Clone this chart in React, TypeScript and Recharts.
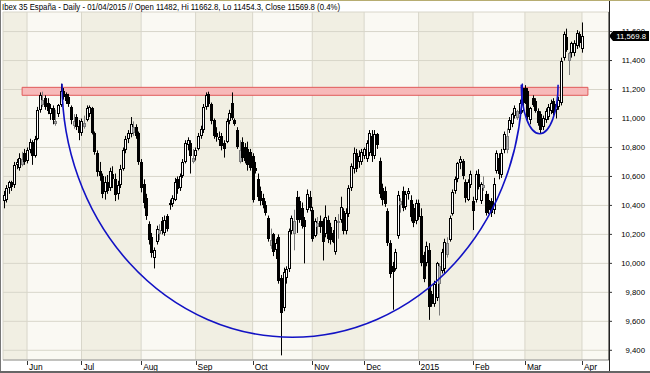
import React from "react"
import {
  ComposedChart,
  Bar,
  XAxis,
  YAxis,
  CartesianGrid,
  ReferenceArea,
  ReferenceLine,
} from "recharts"

const FONT = "'Liberation Sans', Arial, sans-serif"
const TITLE =
  "Ibex 35 España - Daily - 01/04/2015 // Open 11482, Hi 11662.8, Lo 11454.3, Close 11569.8 (0.4%)"

// trading-day index of the first session of each month (day 0 = 20 May 2014)
const MONTH_START = [9, 30, 53, 74, 96, 119, 139, 160, 181, 201, 223]
const MONTH_LABELS = ["Jun", "Jul", "Aug", "Sep", "Oct", "Nov", "Dec", "2015", "Feb", "Mar", "Apr"]
const PRICE_TICKS = [9400, 9600, 9800, 10000, 10200, 10400, 10600, 10800, 11000, 11200, 11400, 11600]

// daily OHLC
const opens = [
  10430, 10440, 10520, 10560, 10540, 10680, 10660, 10680, 10760, 10710,
  10780, 10840, 10740, 10860, 11060, 11090, 11140, 11110, 11030, 11070,
  10960, 11030, 11090, 11190, 11170, 11150, 11080, 10950, 11010, 10950,
  10900, 10940, 10990, 11030, 11070, 10900, 10760, 10640, 10600, 10490,
  10560, 10520, 10620, 10580, 10480, 10540, 10650, 10780, 10860, 10890,
  10900, 10940, 10900, 10700, 10550, 10450, 10270, 10180, 10040, 10150,
  10200, 10290, 10210, 10330, 10400, 10410, 10440, 10580, 10520, 10600,
  10700, 10820, 10830, 10700, 10740, 10790, 10880, 10920, 11080, 11170,
  11100, 10990, 10900, 10850, 10880, 10830, 10840, 10980, 11110, 10990,
  10920, 10700, 10840, 10800, 10790, 10770, 10740, 10660, 10580, 10500,
  10450, 10400, 10310, 10120, 10200, 10090, 10180, 9900, 9690, 9900,
  9960, 10220, 10200, 10460, 10430, 10380, 10300, 10370, 10460, 10370,
  10190, 10250, 10290, 10290, 10200, 10300, 10250, 10210, 10080, 10280,
  10300, 10360, 10220, 10340, 10520, 10650, 10760, 10700, 10700, 10740,
  10720, 10760, 10880, 10740, 10890, 10710, 10520, 10500, 10360, 10140,
  9980, 9960, 10190, 10400, 10500, 10390, 10480, 10440, 10380, 10290,
  10420, 10330, 10060, 10000, 10090, 9790, 9720, 9760, 9860, 9950,
  9960, 10060, 10160, 10340, 10500, 10580, 10690, 10710, 10560, 10440,
  10540, 10430, 10440, 10620, 10430, 10520, 10480, 10440, 10430, 10370,
  10640, 10730, 10610, 10780, 10780, 10920, 10960, 11020, 11000, 11030,
  11050, 11210, 11190, 10990, 11140, 11120, 11050, 11030, 10940, 10990,
  11010, 11050, 11120, 11060, 11080, 11110, 11420, 11560, 11400, 11450,
  11450, 11500, 11580, 11482,
]
const highs = [
  10500, 10540, 10570, 10570, 10700, 10720, 10760, 10770, 10790, 10800,
  10860, 10850, 10880, 11080, 11180, 11185, 11160, 11140, 11100, 11090,
  11060, 11100, 11240, 11210, 11180, 11170, 11090, 11030, 11030, 10990,
  11000, 11020, 11090, 11090, 11080, 10910, 10780, 10700, 10620, 10600,
  10610, 10660, 10670, 10620, 10570, 10680, 10800, 10880, 10920, 11010,
  10980, 10960, 10910, 10720, 10580, 10480, 10290, 10210, 10110, 10260,
  10270, 10320, 10330, 10340, 10440, 10470, 10590, 10600, 10620, 10720,
  10850, 10870, 10850, 10790, 10800, 10900, 10950, 11100, 11180, 11185,
  11110, 11000, 10940, 10910, 10900, 10850, 11000, 11060, 11180, 11000,
  10940, 10850, 10870, 10830, 10840, 10790, 10760, 10700, 10620, 10530,
  10480, 10430, 10330, 10240, 10210, 10170, 10200, 9920, 9970, 9980,
  10240, 10330, 10370, 10500, 10460, 10420, 10320, 10510, 10500, 10390,
  10310, 10320, 10330, 10310, 10400, 10330, 10280, 10230, 10320, 10340,
  10460, 10380, 10380, 10540, 10690, 10800, 10790, 10780, 10790, 10800,
  10850, 10920, 10920, 10920, 10900, 10730, 10550, 10530, 10380, 10160,
  10010, 10100, 10500, 10450, 10530, 10500, 10520, 10470, 10410, 10440,
  10440, 10380, 10080, 10150, 10140, 9810, 9880, 10010, 10000, 10100,
  10170, 10180, 10330, 10510, 10600, 10700, 10740, 10720, 10580, 10580,
  10640, 10460, 10640, 10650, 10560, 10600, 10500, 10480, 10450, 10590,
  10780, 10760, 10790, 10910, 10930, 11010, 11040, 11090, 11060, 11130,
  11240, 11230, 11210, 11080, 11160, 11140, 11070, 11050, 11020, 11070,
  11100, 11130, 11140, 11110, 11150, 11420, 11600, 11620, 11460, 11530,
  11540, 11610, 11600, 11662.8,
]
const lows = [
  10380, 10420, 10480, 10500, 10520, 10650, 10640, 10670, 10680, 10690,
  10760, 10680, 10730, 10850, 11040, 11080, 11060, 11030, 10990, 10960,
  10950, 11010, 11080, 11130, 11100, 11080, 10960, 10930, 10920, 10850,
  10880, 10930, 10980, 11010, 10890, 10750, 10600, 10570, 10450, 10440,
  10480, 10500, 10520, 10430, 10440, 10520, 10640, 10760, 10830, 10870,
  10880, 10860, 10680, 10490, 10380, 10300, 10130, 10040, 9965, 10130,
  10160, 10200, 10190, 10220, 10370, 10390, 10430, 10480, 10500, 10590,
  10690, 10780, 10620, 10690, 10710, 10780, 10860, 10900, 11060, 11080,
  10960, 10860, 10840, 10810, 10780, 10730, 10830, 10960, 10990, 10950,
  10790, 10690, 10700, 10690, 10640, 10640, 10420, 10620, 10430, 10400,
  10380, 10330, 10150, 10100, 10050, 10030, 9860, 9365, 9670, 9860,
  9940, 10200, 10090, 10210, 10280, 10240, 10000, 10350, 10360, 10150,
  10180, 10200, 10210, 10020, 10180, 10140, 10130, 10140, 10060, 10170,
  10280, 10200, 10200, 10320, 10500, 10620, 10630, 10660, 10680, 10720,
  10700, 10740, 10700, 10720, 10790, 10450, 10400, 10390, 10120, 9900,
  9680, 9950, 10170, 10350, 10360, 10370, 10440, 10290, 10250, 10270,
  10300, 9980, 9870, 9980, 9610, 9700, 9700, 9740, 9640, 9930,
  9930, 10040, 10150, 10330, 10480, 10560, 10650, 10580, 10420, 10430,
  10520, 10230, 10420, 10510, 10410, 10500, 10330, 10340, 10320, 10340,
  10620, 10580, 10590, 10760, 10760, 10900, 10940, 11000, 10990, 11010,
  11040, 11100, 10990, 10960, 11080, 11040, 10950, 10900, 10920, 10970,
  10990, 11030, 11020, 11000, 11060, 11090, 11400, 11460, 11300, 11420,
  11430, 11480, 11490, 11454.3,
]
const closes = [
  10470, 10520, 10560, 10530, 10680, 10700, 10730, 10720, 10700, 10780,
  10840, 10740, 10860, 11060, 11160, 11130, 11080, 11050, 11070, 10990,
  10980, 11090, 11190, 11150, 11120, 11100, 10990, 10980, 10940, 10900,
  10980, 10970, 11070, 11080, 10900, 10770, 10630, 10600, 10480, 10560,
  10500, 10640, 10580, 10470, 10540, 10650, 10780, 10860, 10900, 10960,
  10940, 10880, 10700, 10520, 10420, 10330, 10160, 10070, 10090, 10240,
  10230, 10220, 10300, 10240, 10420, 10450, 10560, 10510, 10600, 10700,
  10830, 10850, 10740, 10730, 10780, 10880, 10930, 11080, 11160, 11100,
  10980, 10880, 10870, 10875, 10810, 10790, 10980, 11040, 11000, 10960,
  10800, 10780, 10730, 10710, 10680, 10660, 10440, 10640, 10460, 10430,
  10400, 10350, 10170, 10160, 10080, 10140, 9880, 9655, 9940, 9960,
  10220, 10310, 10290, 10300, 10300, 10260, 10250, 10480, 10380, 10170,
  10290, 10280, 10250, 10150, 10320, 10170, 10160, 10150, 10300, 10295,
  10390, 10220, 10350, 10520, 10670, 10760, 10650, 10740, 10770, 10790,
  10830, 10900, 10740, 10890, 10820, 10480, 10440, 10410, 10140, 9930,
  9940, 10080, 10470, 10430, 10380, 10480, 10500, 10320, 10280, 10420,
  10320, 10000, 9890, 10120, 9700, 9720, 9860, 10000, 9980, 10080,
  10150, 10140, 10310, 10490, 10580, 10690, 10720, 10600, 10450, 10560,
  10620, 10360, 10620, 10530, 10550, 10540, 10350, 10370, 10350, 10550,
  10760, 10620, 10760, 10890, 10880, 10990, 11030, 11070, 11050, 11110,
  11210, 11110, 11010, 11070, 11090, 11050, 10970, 10920, 11000, 11050,
  11080, 11110, 11040, 11100, 11130, 11400, 11580, 11470, 11450, 11520,
  11520, 11590, 11523, 11569.8,
]

// drawn annotations, in (day index, price) units
const ZONE = { x1: 7.1, x2: 225.3, y1: 11160, y2: 11215 }
const BIG_ARC = { x1: 22.5, x2: 200, y1: 9490, y2: 11240 }
const SMALL_ARC = { x1: 199.6, x2: 213.8, y1: 10895, y2: 11232 }

const X_DOMAIN: [number, number] = [-0.27, 233.43]
const Y_DOMAIN: [number, number] = [9333, 11735]

const rows = closes.map((c, i) => ({
  i,
  o: opens[i],
  h: highs[i],
  l: lows[i],
  c,
  pc: i > 0 ? closes[i - 1] : opens[i],
}))

const bandEdges = [X_DOMAIN[0], ...MONTH_START, X_DOMAIN[1]]
const lastClose = closes[closes.length - 1]

function Candle(props: any) {
  const { x, y, width, height, payload } = props
  if (payload == null || height == null) return null
  const { o, h, l, c, pc } = payload
  const k = h > l ? height / (h - l) : 0
  const cx = Math.round(x + width / 2)
  const top = Math.round(y + (h - Math.max(o, c)) * k)
  const bot = Math.round(y + (h - Math.min(o, c)) * k)
  const bh = Math.max(1, bot - top)
  const up = c >= o
  const gray = up && c < pc
  const edge = gray ? "#7c7c7c" : "#000"
  return (
    <g>
      <line x1={cx + 0.5} x2={cx + 0.5} y1={y} y2={y + height} stroke={edge} strokeWidth={1} />
      {up ? (
        <rect
          x={cx - 0.5}
          y={top + 0.5}
          width={2}
          height={Math.max(bh - 1, 0.5)}
          fill={gray ? "#b4b4b4" : "#fff"}
          stroke={edge}
          strokeWidth={1}
        />
      ) : (
        <rect x={cx - 1} y={top} width={3} height={bh} fill="#000" />
      )}
    </g>
  )
}

function Arc(props: any) {
  const { x, y, width, height } = props
  if (width == null || height == null) return null
  return (
    <path
      d={`M${x},${y} A${width / 2},${height} 0 0 0 ${x + width},${y}`}
      fill="none"
      stroke="#1212c4"
      strokeWidth={1.6}
    />
  )
}

function MonthTick(props: any) {
  const { x, y, payload } = props
  const label = MONTH_LABELS[MONTH_START.indexOf(payload.value)]
  const px = Math.round(x) + 0.5
  return (
    <g>
      <line x1={px} x2={px} y1={y + 1} y2={y + 5} stroke="#333" />
      <text x={x + 2} y={y + 9.5} fontSize={8.4} fontFamily={FONT} fill="#000">
        {label}
      </text>
    </g>
  )
}

function PriceTick(props: any) {
  const { y, payload } = props
  return (
    <text x={645} y={y + 2.8} textAnchor="end" fontSize={7.8} fontFamily={FONT} fill="#000">
      {Number(payload.value).toLocaleString("en-US")}
    </text>
  )
}

function PriceTag(props: any) {
  const vb = props.viewBox || {}
  const x0 = (vb.x ?? 3) + (vb.width ?? 606)
  const yc = vb.y ?? 35
  return (
    <g>
      <polygon
        points={`${x0},${yc} ${x0 + 4},${yc - 5} ${x0 + 40},${yc - 5} ${x0 + 40},${yc + 5} ${x0 + 4},${yc + 5}`}
        fill="#000"
      />
      <text x={x0 + 37} y={yc + 3} textAnchor="end" fontSize={7.8} fontFamily={FONT} fill="#fff">
        {lastClose.toLocaleString("en-US", { minimumFractionDigits: 1 })}
      </text>
    </g>
  )
}

export default function App() {
  return (
    <div style={{ position: "absolute", left: 0, top: 0, width: 650, height: 373, background: "#fff" }}>
      <ComposedChart
        width={650}
        height={373}
        data={rows}
        margin={{ top: 12, right: 0, bottom: 0, left: 3 }}
      >
        {bandEdges.slice(0, -1).map((x1, k) => (
          <ReferenceArea
            key={`band-${k}`}
            x1={x1}
            x2={bandEdges[k + 1]}
            fill={k % 2 === 0 ? "#f1efe3" : "#faf9f3"}
            fillOpacity={1}
            stroke="none"
            zIndex={-150}
          />
        ))}
        <CartesianGrid stroke="#d8d6ca" strokeWidth={1} />
        <XAxis
          type="number"
          dataKey="i"
          domain={X_DOMAIN}
          allowDataOverflow
          ticks={MONTH_START}
          interval={0}
          tick={<MonthTick />}
          tickLine={false}
          tickSize={0}
          tickMargin={0}
          axisLine={{ stroke: "#9a9a9a" }}
          height={13}
        />
        <YAxis
          orientation="right"
          type="number"
          domain={Y_DOMAIN}
          allowDataOverflow
          ticks={PRICE_TICKS}
          interval={0}
          tick={<PriceTick />}
          tickLine={{ stroke: "#333" }}
          tickSize={3}
          axisLine={{ stroke: "#222" }}
          width={41}
        />
        <ReferenceArea
          x1={ZONE.x1}
          x2={ZONE.x2}
          y1={ZONE.y1}
          y2={ZONE.y2}
          fill="#f7b9b9"
          fillOpacity={1}
          stroke="#e05a5a"
          strokeWidth={1}
          zIndex={250}
        />
        <Bar
          dataKey={(d: any) => [d.l, d.h]}
          barSize={3}
          shape={<Candle />}
          isAnimationActive={false}
        />
        <ReferenceArea
          x1={BIG_ARC.x1}
          x2={BIG_ARC.x2}
          y1={BIG_ARC.y1}
          y2={BIG_ARC.y2}
          shape={<Arc />}
          zIndex={700}
        />
        <ReferenceArea
          x1={SMALL_ARC.x1}
          x2={SMALL_ARC.x2}
          y1={SMALL_ARC.y1}
          y2={SMALL_ARC.y2}
          shape={<Arc />}
          zIndex={700}
        />
        <ReferenceLine y={lastClose} stroke="none" ifOverflow="visible" label={<PriceTag />} zIndex={2100} />
      </ComposedChart>
      <svg
        width={609}
        height={13}
        style={{ position: "absolute", left: 0, top: 0 }}
      >
        <text x={2} y={9.5} fontSize={8.4} fontFamily={FONT} fill="#000" textLength={338} lengthAdjust="spacingAndGlyphs">
          {TITLE}
        </text>
      </svg>
      <div style={{ position: "absolute", left: 609, top: 0, width: 1, height: 373, background: "#222" }} />
      <div style={{ position: "absolute", left: 0, top: 0, width: 650, height: 1, background: "#b7ad72" }} />
      <div style={{ position: "absolute", left: 0, top: 0, width: 1, height: 373, background: "#777" }} />
      <div style={{ position: "absolute", left: 0, top: 371, width: 650, height: 2, background: "#666" }} />
    </div>
  )
}
